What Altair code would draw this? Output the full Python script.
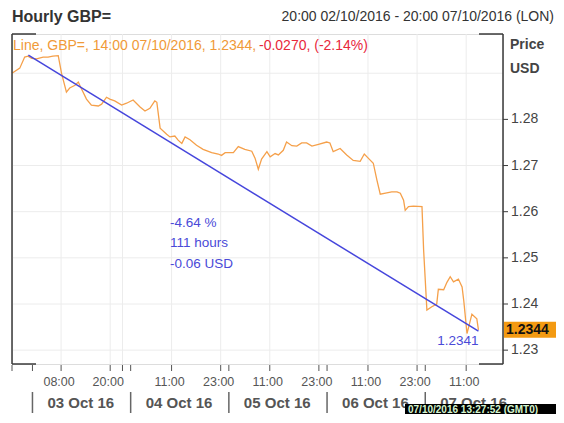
import altair as alt
import pandas as pd

# ---------------- data ----------------
# hours since 00:00 03 Oct 2016 (GMT) and GBP= price in USD
hours = [-4.0, -2.1, -0.9, -0.1, 0.8, 2.0, 3.6, 4.8, 6.0, 7.3,
         8.1, 9.3, 10.1, 11.4, 12.2, 13.0, 14.2, 15.4, 17.1, 17.9,
         19.1, 19.9, 21.1, 22.8, 24.0, 25.6, 27.3, 28.5, 29.7, 30.9,
         31.4, 32.2, 33.8, 34.6, 35.8, 36.6, 37.5, 38.3, 39.5, 41.1,
         42.7, 44.8, 46.4, 47.2, 48.1, 50.1, 51.3, 52.9, 54.6, 55.4,
         56.2, 57.0, 58.3, 59.1, 60.3, 61.1, 62.3, 63.1, 64.4, 65.6,
         66.8, 68.0, 69.3, 70.9, 72.9, 73.7, 74.5, 76.2, 77.8, 79.4,
         81.1, 82.1, 83.3, 84.3, 85.2, 86.0, 87.6, 88.8, 90.1, 90.9,
         91.7, 92.1, 92.9, 94.1, 96.2, 96.6, 97.4, 98.6, 99.8, 100.2,
         101.5, 102.3, 103.1, 103.9, 105.1, 106.0, 106.4, 107.2, 107.6, 108.4,
         109.6, 110.0]
prices = [1.2900, 1.2911, 1.2935, 1.2937, 1.2932, 1.2931, 1.2935, 1.2935, 1.2937, 1.2938,
          1.2900, 1.2859, 1.2868, 1.2874, 1.2881, 1.2866, 1.2844, 1.2831, 1.2829, 1.2833,
          1.2848, 1.2844, 1.2840, 1.2831, 1.2835, 1.2842, 1.2827, 1.2818, 1.2824, 1.2840,
          1.2837, 1.2781, 1.2768, 1.2762, 1.2764, 1.2755, 1.2748, 1.2762, 1.2756, 1.2744,
          1.2735, 1.2728, 1.2725, 1.2722, 1.2728, 1.2728, 1.2741, 1.2735, 1.2731, 1.2716,
          1.2692, 1.2714, 1.2730, 1.2719, 1.2726, 1.2723, 1.2733, 1.2751, 1.2743, 1.2742,
          1.2749, 1.2749, 1.2742, 1.2746, 1.2751, 1.2749, 1.2730, 1.2737, 1.2723, 1.2711,
          1.2709, 1.2725, 1.2714, 1.2705, 1.2668, 1.2638, 1.2641, 1.2643, 1.2643, 1.2640,
          1.2625, 1.2603, 1.2611, 1.2612, 1.2611, 1.2517, 1.2387, 1.2394, 1.2400, 1.2432,
          1.2431, 1.2447, 1.2459, 1.2448, 1.2454, 1.2437, 1.2408, 1.2336, 1.2350, 1.2378,
          1.2368, 1.2344]

trend_hours = [0.0, 110.0]
trend_prices = [1.2939, 1.2341]
trend_end_label = ["1.2341"]
last_price = [1.2344]
last_label = ["1.2344"]

tick_hours = [-4, 1, 8, 20, 23, 25, 35, 47, 49, 59, 71, 73, 83, 95, 97, 107]
grid_hours = [8, 20, 23, 35, 47, 59, 71, 83, 95, 107]
label_hours = [8, 20, 35, 47, 59, 71, 83, 95, 107]
label_texts = ["08:00", "20:00", "11:00", "23:00", "11:00", "23:00", "11:00", "23:00", "11:00"]
day_hours = [1, 25, 49, 73, 97]
day_texts = ["03 Oct 16", "04 Oct 16", "05 Oct 16", "06 Oct 16", "07 Oct 16"]
price_ticks = [1.23, 1.24, 1.25, 1.26, 1.27, 1.28]
grid_prices = [1.23, 1.24, 1.25, 1.26, 1.27, 1.28, 1.29]

title_left = "Hourly GBP="
title_right = "20:00 02/10/2016 - 20:00 07/10/2016 (LON)"
legend_orange = "Line, GBP=, 14:00 07/10/2016, 1.2344,"
legend_red = "-0.0270, (-2.14%)"
stats_text = "-4.64 %\n111 hours\n-0.06 USD"
unit_text = "Price\nUSD"
stamp_text = "07/10/2016 13:27:52  (GMT0)"

# ---------------- styling ----------------
W, H = 491, 330
FONT = "Liberation Sans"
ORANGE = "#f5a04a"
ORANGE_TXT = "#f09a38"
RED = "#e8283c"
BLUE = "#4646dc"
BLUE_TXT = "#4a4ad8"
GRID = "#ececec"
DARK = "#3a3a3a"

xs = alt.Scale(domain=[-4, 116], nice=False)
ys = alt.Scale(domain=[1.227, 1.2985], nice=False, zero=False)

one = pd.DataFrame({"k": [0]})

price_df = pd.DataFrame({"h": hours, "p": prices})
trend_df = pd.DataFrame({"h": trend_hours, "p": trend_prices})
trend_lab_df = pd.DataFrame({"h": trend_hours[-1:], "p": trend_prices[-1:], "t": trend_end_label})
last_df = pd.DataFrame({"p": last_price, "t": last_label})
vgrid_df = pd.DataFrame({"h": grid_hours})
hgrid_df = pd.DataFrame({"p": grid_prices})
ytick_df = pd.DataFrame({"p": price_ticks})
xtick_df = pd.DataFrame({"h": tick_hours})
hlab_df = pd.DataFrame({"h": label_hours, "t": label_texts})
day_df = pd.DataFrame({"h": day_hours, "t": day_texts})


def X():
    return alt.X("h:Q", scale=xs, axis=None)


def Y():
    return alt.Y("p:Q", scale=ys, axis=None)


def prule(color, width, **enc):
    return alt.Chart(one).mark_rule(color=color, strokeWidth=width).encode(**enc)


# outer frame (top and left edges)
outer_top = prule("#a8a8a8", 1, x=alt.value(-10), x2=alt.value(W + 60), y=alt.value(-32))
outer_left = prule("#a8a8a8", 1, x=alt.value(-10), y=alt.value(-32), y2=alt.value(H + 60))

hgrid = alt.Chart(hgrid_df).mark_rule(color=GRID, strokeWidth=1).encode(y=Y())
vgrid = alt.Chart(vgrid_df).mark_rule(color=GRID, strokeWidth=1).encode(x=X())

left_edge = prule(DARK, 1.5, x=alt.value(0), y=alt.value(0), y2=alt.value(H))
right_edge = prule(DARK, 1.5, x=alt.value(W), y=alt.value(0), y2=alt.value(H))
corners = [
    prule(DARK, 1.5, x=alt.value(0), x2=alt.value(24), y=alt.value(0)),
    prule(DARK, 1.5, x=alt.value(W - 24), x2=alt.value(W), y=alt.value(0)),
    prule(DARK, 1.5, x=alt.value(0), x2=alt.value(24), y=alt.value(H)),
    prule(DARK, 1.5, x=alt.value(W - 24), x2=alt.value(W), y=alt.value(H)),
]

# y axis (right): ticks + labels
yticks = alt.Chart(ytick_df).mark_rule(color=DARK, strokeWidth=1).encode(
    y=Y(), x=alt.value(W), x2=alt.value(W + 5))
ylabels = alt.Chart(ytick_df).mark_text(
    align="left", baseline="middle", font=FONT, fontSize=14, color="#444"
).encode(y=Y(), x=alt.value(W + 8), text=alt.Text("p:Q", format=".2f"))

# x axis ticks
xticks = alt.Chart(xtick_df).mark_rule(color="#555", strokeWidth=1).encode(
    x=X(), y=alt.value(H + 1), y2=alt.value(H + 7))

line = alt.Chart(price_df).mark_line(color=ORANGE, strokeWidth=1.3).encode(x=X(), y=Y())

trend = alt.Chart(trend_df).mark_line(color=BLUE, strokeWidth=1.5).encode(x=X(), y=Y())
trend_lab = alt.Chart(trend_lab_df).mark_text(
    align="right", baseline="middle", dy=10, font=FONT, fontSize=13.5, color=BLUE_TXT
).encode(x=X(), y=Y(), text="t:N")

stats = alt.Chart(one).mark_text(
    text=stats_text, lineBreak="\n", lineHeight=20.5, align="left", baseline="middle",
    font=FONT, fontSize=13.5, color=BLUE_TXT
).encode(x=alt.value(158), y=alt.value(188.5))

last_box = alt.Chart(last_df).mark_rect(color="#f39a12", yOffset=-8, y2Offset=8).encode(
    x=alt.value(W + 1), x2=alt.value(W + 60), y=Y(), y2="p:Q")
last_txt = alt.Chart(last_df).mark_text(
    align="left", baseline="middle", font=FONT, fontSize=14, fontWeight="bold", color="#111"
).encode(x=alt.value(W + 3), y=Y(), text="t:N")

hour_labels = alt.Chart(hlab_df).mark_text(
    align="center", baseline="middle", dx=-2, font=FONT, fontSize=12.5, color="#555"
).encode(x=X(), y=alt.value(H + 18), text="t:N")

day_rules = alt.Chart(day_df).mark_rule(color="#666", strokeWidth=1.5).encode(
    x=X(), y=alt.value(H + 28), y2=alt.value(H + 49))
day_labels = alt.Chart(day_df).mark_text(
    align="left", baseline="middle", dx=15, font=FONT, fontSize=15, fontWeight="bold", color="#555"
).encode(x=X(), y=alt.value(H + 39), text="t:N")

t_left = alt.Chart(one).mark_text(
    text=title_left, align="left", baseline="middle", font=FONT, fontSize=16,
    fontWeight="bold", color="#333").encode(x=alt.value(0), y=alt.value(-17))
t_right = alt.Chart(one).mark_text(
    text=title_right, align="right", baseline="middle", font=FONT, fontSize=14,
    color="#333").encode(x=alt.value(542), y=alt.value(-17))
leg_o = alt.Chart(one).mark_text(
    text=legend_orange, align="left", baseline="middle", font=FONT, fontSize=14,
    color=ORANGE_TXT).encode(x=alt.value(1), y=alt.value(12))
leg_r = alt.Chart(one).mark_text(
    text=legend_red, align="left", baseline="middle", font=FONT, fontSize=14,
    color=RED).encode(x=alt.value(247), y=alt.value(12))
unit = alt.Chart(one).mark_text(
    text=unit_text, lineBreak="\n", lineHeight=23.5, align="left", baseline="middle",
    font=FONT, fontSize=14, fontWeight="bold", color="#444"
).encode(x=alt.value(W + 7), y=alt.value(11))

stamp_box = alt.Chart(one).mark_rect(color="#000").encode(
    x=alt.value(393), x2=alt.value(W + 60), y=alt.value(H + 40), y2=alt.value(H + 56))
stamp_txt = alt.Chart(one).mark_text(
    text=stamp_text, align="left", baseline="middle", font=FONT, fontSize=10,
    fontWeight="bold", color="#d6f5d0").encode(x=alt.value(396), y=alt.value(H + 45.5))

chart = alt.layer(
    outer_top, outer_left, hgrid, vgrid, line, trend, trend_lab, stats,
    left_edge, right_edge, *corners, yticks, ylabels, xticks,
    last_box, last_txt, hour_labels, day_rules, day_labels,
    t_left, t_right, leg_o, leg_r, unit, stamp_box, stamp_txt,
).properties(
    width=W, height=H,
    padding={"left": 4, "top": 26, "right": 53, "bottom": 50},
    autosize=alt.AutoSizeParams(type="none"),
).configure_view(stroke="#cfcfcf", strokeWidth=1).configure(background="white")

chart.save("out.html", embed_options={"renderer": "svg", "actions": False})
